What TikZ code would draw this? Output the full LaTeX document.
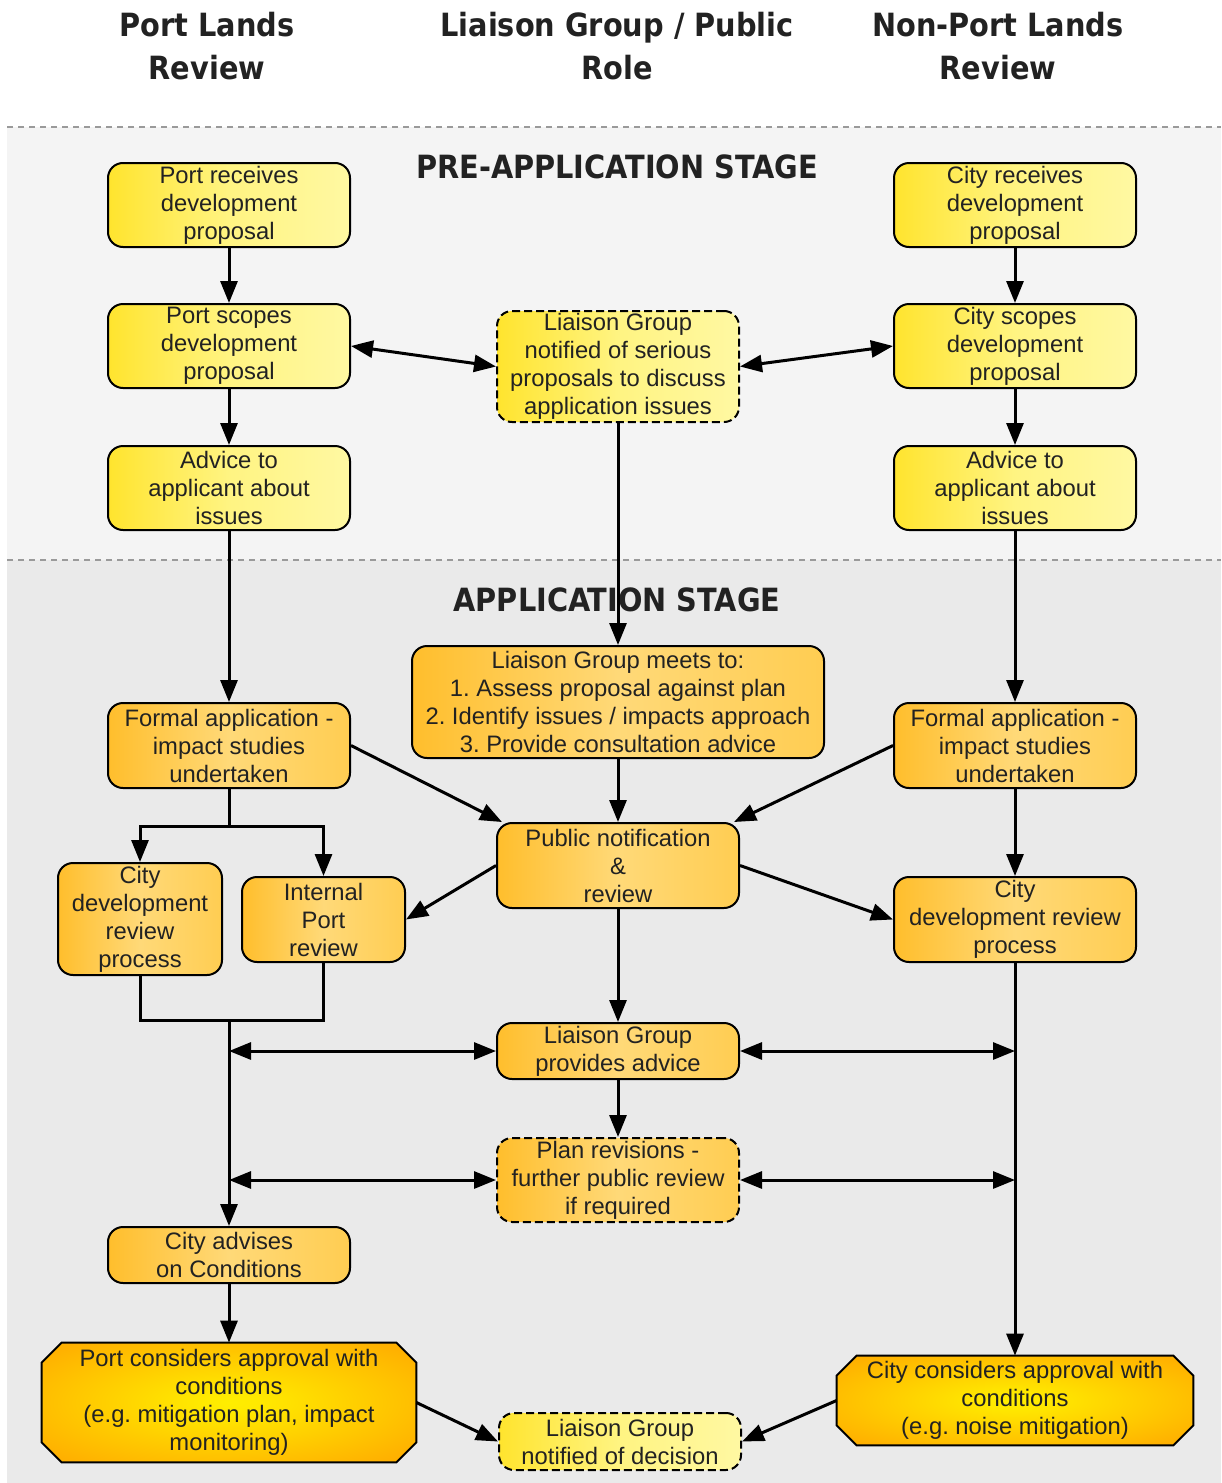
\documentclass[tikz,border=0pt]{standalone}
\usepackage{fontspec}
\setmainfont{Liberation Sans}
\newfontfamily\hdrfont{DejaVu Sans Condensed}
\usetikzlibrary{arrows.meta,positioning}
\frenchspacing
\definecolor{txt}{HTML}{222222}
\definecolor{bgA}{HTML}{F4F4F4}
\definecolor{bgB}{HTML}{EAEAEA}
\definecolor{dashc}{HTML}{9A9A9A}
\definecolor{yL}{HTML}{FFE42E}
\definecolor{yM}{HTML}{FFF482}
\definecolor{yR}{HTML}{FFF8A2}
\definecolor{oL}{HTML}{FFBE2C}
\definecolor{oM}{HTML}{FFD978}
\definecolor{oR}{HTML}{FFCD52}
\definecolor{octIn}{HTML}{FFEE00}
\definecolor{octOut}{HTML}{FFB000}
\pgfdeclareradialshading{octshade}{\pgfpoint{0bp}{0bp}}{color(0bp)=(octIn); color(4bp)=(octIn!92!octOut); color(32bp)=(octOut); color(80bp)=(octOut)}
\pgfdeclarelayer{back}
\pgfdeclarelayer{mid}
\pgfsetlayers{back,mid,main}
\tikzset{
  box/.style={draw=black, line width=1pt, rounded corners=7.5pt, align=center,
    inner sep=0pt, text=txt, font=\fontsize{11.9}{14}\selectfont\frenchspacing},
  ybox/.style={box, left color=yL, right color=yR, middle color=yM},
  obox/.style={box, left color=oL, right color=oR, middle color=oM},
  dbox/.style={dash pattern=on 4pt off 2pt},
  plainbox/.style={align=center, inner sep=0pt, text=txt, font=\fontsize{11.9}{14}\selectfont\frenchspacing},
  arr/.style={line width=1.5pt, -{Triangle[length=11pt,width=8.5pt]}},
  darr/.style={line width=1.5pt, {Triangle[length=11pt,width=8.5pt]}-{Triangle[length=11pt,width=8.5pt]}},
  ln/.style={line width=1.5pt},
  hdr/.style={align=center, text=txt, inner sep=0pt, font=\hdrfont\bfseries\fontsize{16}{21.5}\selectfont},
  octpath/.style={draw=black, line width=1pt, shading=octshade},
}
\begin{document}
\begin{tikzpicture}[x=0.5pt,y=-0.5pt]
\useasboundingbox (0,0) rectangle (1221,1483);
\begin{pgfonlayer}{back}
\fill[bgA] (7,127) rectangle (1221,560);
\fill[bgB] (7,560) rectangle (1221,1483);
\draw[dashc, line width=0.75pt, dash pattern=on 3pt off 2.5pt] (7,127) -- (1221,127);
\draw[dashc, line width=0.75pt, dash pattern=on 3pt off 2.5pt] (7,560) -- (1221,560);
\end{pgfonlayer}

% headers
\node[hdr] (h1) at (207,46.5) {Port Lands\\Review};
\node[hdr] (h2) at (617,46.5) {Liaison Group / Public\\Role};
\node[hdr] (h3) at (998,46.5) {Non-Port Lands\\Review};
\node[hdr] (t1) at (617,167) {PRE-APPLICATION STAGE};
\node[hdr] (t2) at (617,600) {APPLICATION STAGE};

% pre-application
\node[ybox, minimum width=121pt, minimum height=42pt] (pr) at (229,205) {Port receives\\development\\proposal};
\node[ybox, minimum width=121pt, minimum height=42pt] (cr) at (1015,205) {City receives\\development\\proposal};
\node[ybox, minimum width=121pt, minimum height=42pt] (ps) at (229,346) {Port scopes\\development\\proposal};
\node[ybox, minimum width=121pt, minimum height=42pt] (cs) at (1015,346) {City scopes\\development\\proposal};
\node[ybox, minimum width=121pt, minimum height=42pt] (pa) at (229,488) {Advice to\\applicant about\\issues};
\node[ybox, minimum width=121pt, minimum height=42pt] (ca) at (1015,488) {Advice to\\applicant about\\issues};
\node[ybox, dbox, minimum width=121pt, minimum height=55.5pt] (lg1) at (618,366.5) {Liaison Group\\notified of serious\\proposals to discuss\\application issues};

% application
\node[obox, minimum width=206pt, minimum height=56pt] (lgm) at (618,702) {Liaison Group meets to:\\1. Assess proposal against plan\\2. Identify issues / impacts approach\\3. Provide consultation advice};
\node[obox, minimum width=121pt, minimum height=42.5pt] (pfa) at (229,745.5) {Formal application -\\impact studies\\undertaken};
\node[obox, minimum width=121pt, minimum height=42.5pt] (nfa) at (1015,745.5) {Formal application -\\impact studies\\undertaken};
\node[obox, minimum width=121pt, minimum height=42.5pt] (pn) at (618,865.5) {Public notification\\\&\\review};
\node[obox, minimum width=82pt, minimum height=56pt] (cdr) at (140,919) {City\\development\\review\\process};
\node[obox, minimum width=81.5pt, minimum height=42.5pt] (ipr) at (323.5,919.5) {Internal\\Port\\review};
\node[obox, minimum width=121pt, minimum height=42.5pt] (rcdr) at (1015,919.5) {City\\development review\\process};
\node[obox, minimum width=121pt, minimum height=28pt] (lga) at (618,1051) {Liaison Group\\provides advice};
\node[obox, dbox, minimum width=121pt, minimum height=42pt] (prv) at (618,1180) {Plan revisions -\\further public review\\if required};
\node[obox, minimum width=121pt, minimum height=28pt] (cac) at (229,1255) {City advises\\on Conditions};
\node[ybox, dbox, minimum width=121pt, minimum height=28.5pt] (lgn) at (620,1441.5) {Liaison Group\\notified of decision};

% octagons
\node[plainbox, minimum width=187pt, minimum height=59.5pt] (pca) at (229,1402.5) {Port considers approval with\\conditions\\(e.g. mitigation plan, impact\\monitoring)};
\node[plainbox, minimum width=178pt, minimum height=44.5pt] (cca) at (1015,1400.5) {City considers approval with\\conditions\\(e.g. noise mitigation)};
\begin{pgfonlayer}{mid}
\path[octpath] ([xshift=10pt]pca.north west) -- ([xshift=-10pt]pca.north east) -- ([yshift=-10pt]pca.north east) -- ([yshift=10pt]pca.south east) -- ([xshift=-10pt]pca.south east) -- ([xshift=10pt]pca.south west) -- ([yshift=10pt]pca.south west) -- ([yshift=-10pt]pca.north west) -- cycle;
\path[octpath] ([xshift=10pt]cca.north west) -- ([xshift=-10pt]cca.north east) -- ([yshift=-10pt]cca.north east) -- ([yshift=10pt]cca.south east) -- ([xshift=-10pt]cca.south east) -- ([xshift=10pt]cca.south west) -- ([yshift=10pt]cca.south west) -- ([yshift=-10pt]cca.north west) -- cycle;
\end{pgfonlayer}

% coordinates
\coordinate (split) at (229,826);
\coordinate (merge) at (229,1020);
\coordinate (la1) at (229,1051);
\coordinate (ra1) at (1015,1051);
\coordinate (la2) at (229,1180);
\coordinate (ra2) at (1015,1180);

% connectors
\draw[arr] (pr) -- (ps);
\draw[arr] (ps) -- (pa);
\draw[arr] (cr) -- (cs);
\draw[arr] (cs) -- (ca);
\draw[darr] (ps.east) -- (lg1.west);
\draw[darr] (lg1.east) -- (cs.west);
\draw[arr] (lg1.south) -- (lgm.north);
\draw[arr] (pa.south) -- (pfa.north);
\draw[arr] (ca.south) -- (nfa.north);
\draw[arr] (pfa.east) -- ([xshift=3pt]pn.north west);
\draw[arr] (nfa.west) -- ([xshift=-3pt]pn.north east);
\draw[arr] (lgm.south) -- (pn.north);
\draw[ln] (pfa.south) -- (split);
\draw[arr] (split) -| (cdr.north);
\draw[arr] (split) -| (ipr.north);
\draw[arr] (pn.west) -- (ipr.east);
\draw[arr] (pn.east) -- (rcdr.west);
\draw[arr] (nfa.south) -- (rcdr.north);
\draw[arr] (pn.south) -- (lga.north);
\draw[ln] (cdr.south) |- (merge) -| (ipr.south);
\draw[arr] (merge) -- (cac.north);
\draw[darr] (la1) -- (lga.west);
\draw[darr] (lga.east) -- (ra1);
\draw[arr] (lga.south) -- (prv.north);
\draw[darr] (la2) -- (prv.west);
\draw[darr] (prv.east) -- (ra2);
\draw[arr] (rcdr.south) -- (cca.north);
\draw[arr] (cac.south) -- (pca.north);
\draw[arr] (pca.east) -- (lgn.west);
\draw[arr] (cca.west) -- (lgn.east);
\end{tikzpicture}
\end{document}
